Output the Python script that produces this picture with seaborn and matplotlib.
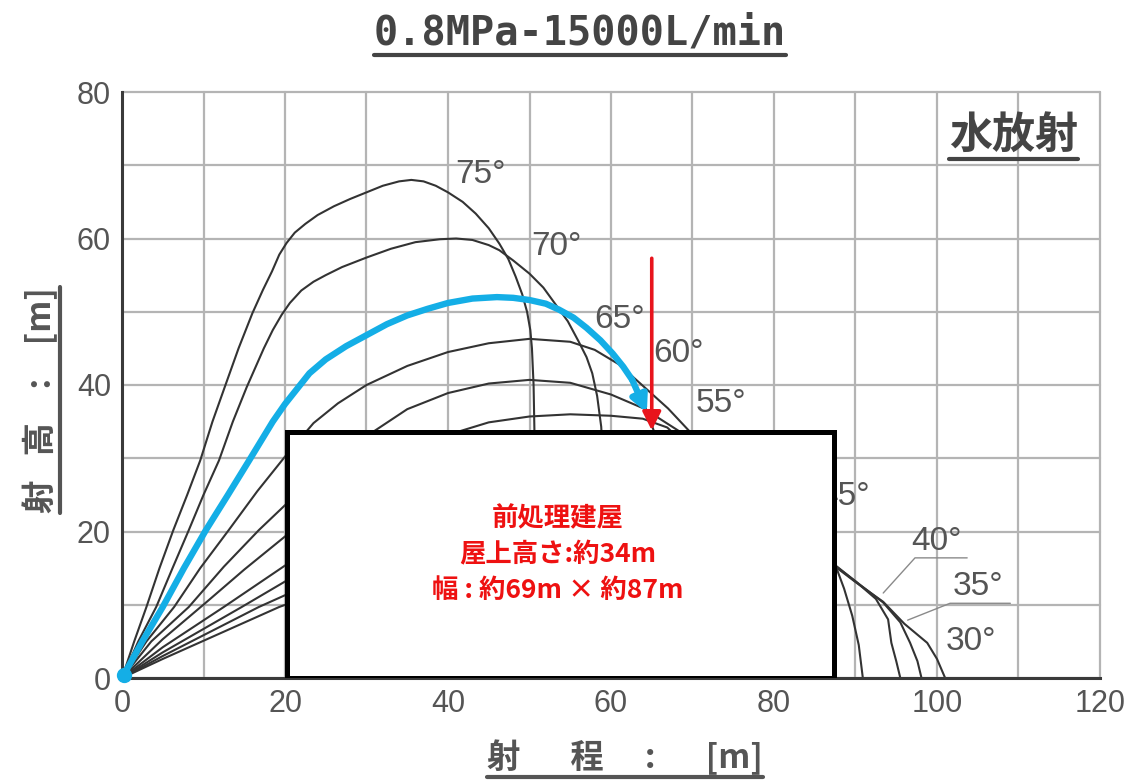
import pandas as pd
import seaborn as sns
import matplotlib.pyplot as plt
import numpy as np
from matplotlib.patches import Rectangle
from matplotlib.lines import Line2D

# --- trajectories (range m, height m) ---
x75 = [0, 1.5, 3.0, 4.6, 6.3, 8.0, 9.6, 11.1, 12.6, 14.3, 16.0, 17.3, 18.4, 19.3, 20.2, 21.2, 22.5, 24.0, 26.0, 28.0, 30.0, 32.0, 34.0, 35.5,
       37.0, 38.5, 40.0, 41.8, 43.4, 45.0, 46.3, 47.4, 48.3, 49.1, 49.7, 50.1, 50.3, 50.5, 50.6, 50.8]
y75 = [0, 5.0, 9.7, 15.0, 20.2, 25.0, 29.7, 35.0, 39.7, 45.0, 49.8, 53.0, 55.5, 57.8, 59.4, 60.8, 62.0, 63.2, 64.4, 65.4, 66.3, 67.2, 67.8, 68.0,
       67.8, 67.2, 66.3, 65.0, 63.4, 61.4, 59.3, 57.2, 54.8, 52.4, 50.0, 47.5, 45.0, 40.0, 34.0, 0]
x70 = [0, 2.0, 4.2, 6.2, 8.2, 10.0, 11.9, 13.6, 15.3, 17.4, 18.5, 19.6, 20.6, 22.0, 23.5, 25.0, 27.0, 30.0, 33.0, 36.0, 39.0, 41.0,
       43.0, 45.0, 46.3, 48.0, 50.0, 51.7, 53.2, 54.7, 56.0, 57.0, 57.7, 58.3, 58.8, 59.5, 59.8]
y70 = [0, 5.0, 9.7, 15.0, 20.2, 25.0, 29.7, 35.0, 39.7, 45.0, 47.5, 49.6, 51.2, 52.9, 54.1, 55.0, 56.1, 57.4, 58.6, 59.5, 59.9, 60.0,
       59.8, 59.1, 58.4, 57.0, 55.2, 53.3, 51.0, 48.7, 46.0, 43.8, 41.6, 38.5, 34.3, 20.0, 0]
x65 = [0, 2.5, 5.0, 7.6, 10.3, 13.0, 15.6, 18.5, 20.0, 21.5, 23.0, 25.0, 27.5, 30.0, 32.5, 35.0, 37.5, 40.0, 43.0, 46.0, 48.0, 50.0,
       52.0, 53.6, 55.4, 57.0, 58.7, 60.2, 61.5, 62.6, 63.5, 64.2, 65.3, 66.0, 66.3]
y65 = [0, 5.0, 9.7, 15.0, 20.2, 25.0, 29.7, 35.0, 37.4, 39.5, 41.6, 43.5, 45.3, 46.8, 48.3, 49.5, 50.4, 51.2, 51.8, 52.0, 51.9, 51.6,
       51.1, 50.3, 49.2, 47.8, 46.1, 44.3, 42.5, 40.7, 38.8, 37.0, 33.6, 20.0, 0]
x60 = [0, 3.0, 6.4, 9.6, 13.1, 16.6, 20.2, 23.5, 26.5, 30.0, 35.0, 40.0, 45.0, 50.0, 55.0, 58.0, 61.0, 64.0, 67.0, 69.7, 72.0, 74.0, 75.5, 76.0]
y60 = [0, 5.0, 9.7, 15.0, 20.2, 25.5, 30.5, 34.8, 37.5, 40.0, 42.6, 44.5, 45.7, 46.3, 45.9, 44.8, 42.8, 39.8, 36.8, 33.6, 28.0, 20.0, 10.0, 0]
x55 = [0, 3.6, 8.2, 12.5, 16.8, 20.2, 25.0, 30.8, 35.0, 40.0, 45.0, 50.0, 55.0, 60.0, 64.0, 68.5, 71.5, 74.0, 76.0, 77.0]
y55 = [0, 5.0, 9.7, 15.2, 20.2, 23.8, 28.6, 33.6, 36.7, 38.9, 40.2, 40.7, 40.3, 38.7, 36.8, 33.6, 28.0, 20.0, 10.0, 0]
x50 = [0, 5.0, 10.3, 15.0, 20.2, 25.0, 30.0, 35.0, 40.0, 45.0, 50.0, 55.0, 60.0, 63.9, 66.9, 69.0, 72.0, 75.0, 77.0, 78.0]
y50 = [0, 5.3, 10.3, 14.8, 19.5, 23.6, 27.4, 30.8, 33.2, 34.9, 35.7, 36.0, 35.8, 35.4, 34.2, 32.0, 27.0, 20.0, 10.0, 0]
x45 = [0, 5.0, 12.5, 20.2, 30.0, 40.0, 50.0, 55.0, 60.0, 66.0, 72.0, 78.0, 82.0, 85.5, 87.4, 88.6, 89.6, 90.4, 90.9]
y45 = [0, 4.2, 9.7, 15.5, 21.5, 26.5, 29.8, 30.6, 30.8, 30.2, 28.6, 26.0, 23.5, 19.8, 15.8, 12.2, 8.5, 4.5, 0]
x40 = [0, 5.0, 14.7, 20.2, 30.0, 40.0, 50.0, 60.0, 70.0, 78.0, 84.0, 87.4, 90.0, 92.5, 94.0, 94.4, 95.0, 95.5]
y40 = [0, 3.5, 9.7, 13.3, 18.8, 23.0, 25.8, 27.2, 26.5, 23.8, 19.6, 15.5, 13.2, 10.8, 8.0, 4.8, 2.3, 0]
x35 = [0, 5.0, 16.8, 20.2, 30.0, 40.0, 50.0, 60.0, 70.0, 80.0, 87.4, 90.0, 93.4, 95.5, 96.7, 97.6, 98.1]
y35 = [0, 3.0, 9.7, 11.4, 16.0, 19.5, 22.0, 23.2, 22.8, 19.8, 15.4, 13.2, 10.3, 7.6, 4.8, 2.3, 0]
x30 = [0, 5.0, 19.3, 30.0, 40.0, 50.0, 60.0, 70.0, 80.0, 87.4, 90.0, 93.4, 96.0, 98.8, 100.0, 101.0]
y30 = [0, 2.6, 9.7, 14.0, 17.0, 19.0, 19.8, 19.4, 17.6, 15.3, 13.1, 10.4, 7.4, 4.8, 2.6, 0]

angles = [75, 70, 65, 60, 55, 50, 45, 40, 35, 30]
xs_all = [x75, x70, x65, x60, x55, x50, x45, x40, x35, x30]
ys_all = [y75, y70, y65, y60, y55, y50, y45, y40, y35, y30]

# angle labels (position of label text)
label_x = [44.0, 53.3, 61.0, 68.3, 73.5, 84.6, 91.8, 100.0, 105.0, 104.2]
label_y = [68.8, 58.9, 49.0, 44.3, 37.5, 34.0, 24.8, 18.6, 12.5, 5.0]

# blue highlighted jet follows the 65 deg curve up to x=62.6, then arrow tip
blue_end = 62.6
blue_tip = (64.4, 36.2)

# building
bldg_x0, bldg_w, bldg_h = 20.3, 67.1, 33.6
bldg_text = "前処理建屋\n屋上高さ:約34m\n幅 : 約69m × 約87m"
red_x, red_top = 65.0, 57.3

xticks = [0, 20, 40, 60, 80, 100, 120]
yticks = [0, 20, 40, 60, 80]

sns.set_style('white')
plt.rcParams['font.family'] = ['Noto Sans CJK JP', 'DejaVu Sans']

fig = plt.figure(figsize=(11.33, 7.81), dpi=100)
W, H = 1133, 781
ax = fig.add_axes([122 / W, 103 / H, (978 * 121 / 120) / W, (586 * 81 / 80) / H])
ax.set_xlim(0, 121)
ax.set_ylim(0, 81)

# grid
for gx in range(0, 121, 10):
    ax.plot([gx, gx], [0, 80], color='#b4b4b4', lw=1.6, zorder=0)
for gy in range(0, 81, 10):
    ax.plot([0, 120], [gy, gy], color='#b4b4b4', lw=1.6, zorder=0)

for s in ['top', 'right']:
    ax.spines[s].set_visible(False)
ax.spines['left'].set_bounds(0, 80)
ax.spines['bottom'].set_bounds(0, 120)
for s in ['left', 'bottom']:
    ax.spines[s].set_color('#3a3a3a')
    ax.spines[s].set_linewidth(2.2)

frames = [pd.DataFrame({'range': xs, 'height': ys, 'angle': a})
          for a, xs, ys in zip(angles, xs_all, ys_all)]
df = pd.concat(frames, ignore_index=True)
sns.lineplot(data=df, x='range', y='height', units='angle', estimator=None,
             sort=False, color='#333333', lw=1.5, ax=ax, zorder=2, legend=False)

for a, lx, ly in zip(angles, label_x, label_y):
    ha = 'right' if a in (50, 45) else 'center'
    va = 'top' if a == 50 else 'center'
    ax.text(lx, ly, f"{a}°", ha=ha, va=va, fontsize=24, color='#555555',
            family='Liberation Sans', zorder=3)

# leader lines for 40 / 35
ax.plot([103.7, 97.3, 93.4], [16.4, 16.4, 11.6], color='#8a8a8a', lw=1.0, zorder=2)
ax.plot([109.0, 101.6, 96.4], [10.2, 10.2, 7.9], color='#8a8a8a', lw=1.0, zorder=2)

# building box
ax.add_patch(Rectangle((bldg_x0, 0), bldg_w, bldg_h, fc='white', ec='black',
                       lw=3.6, zorder=4))
ax.text(bldg_x0 + bldg_w * 0.495, 16.8, bldg_text, ha='center', va='center',
        color='#ee1111', fontsize=19, fontweight='bold', linespacing=1.42, zorder=5)

# blue jet
blue = '#14aee6'
nb = x65.index(blue_end) + 1
sns.lineplot(x=x65[:nb], y=y65[:nb], sort=False, color=blue, lw=4.6,
             ax=ax, zorder=6)
ax.annotate('', xy=blue_tip, xytext=(x65[nb - 1], y65[nb - 1]),
            arrowprops=dict(arrowstyle='-|>', mutation_scale=24, color=blue,
                            lw=4.6, shrinkA=0, shrinkB=0), zorder=6)
ax.plot([0.3], [0.4], 'o', color=blue, ms=10, zorder=7, clip_on=False)

# red arrow
ax.annotate('', xy=(red_x, bldg_h + 0.2), xytext=(red_x, red_top),
            arrowprops=dict(arrowstyle='-|>', mutation_scale=28, color='#e8141c',
                            lw=2.6, shrinkA=0, shrinkB=0), zorder=7)

ax.set_xticks(xticks)
ax.set_yticks(yticks)
ax.tick_params(length=0, labelsize=22, labelcolor='#555555', pad=8)
for t in ax.get_xticklabels() + ax.get_yticklabels():
    t.set_family('Liberation Sans')
ax.set_xlabel('')
ax.set_ylabel('')

title = fig.text(580 / W, 1 - 33 / H, "0.8MPa-15000L/min", ha='center', va='center',
                 fontsize=29, family='DejaVu Sans Mono', fontweight='bold', color='#444444')
mark = ax.text(109.4, 74.1, "水放射", ha='center', va='center', fontsize=31,
               color='#444444', fontweight='bold', zorder=3)
xl = fig.text(625 / W, 1 - 757 / H, "射\u3000\u2002程\u3000 :\u3000\u2002[m]", ha='center',
              va='center', fontsize=24, color='#555555', fontweight='bold')
yl = fig.text(40 / W, 1 - 400 / H, "射\u2002 高\u3000:\u3000[m]", ha='center', va='center',
              fontsize=24, color='#555555', fontweight='bold', rotation=90)

fig.canvas.draw()
inv = fig.transFigure.inverted()


def underline(txt, pad=4, lw=3.0, vertical=False):
    bb = txt.get_window_extent()
    if vertical:
        p = inv.transform([[bb.x1 + pad, bb.y0], [bb.x1 + pad, bb.y1]])
    else:
        p = inv.transform([[bb.x0, bb.y0 - pad], [bb.x1, bb.y0 - pad]])
    fig.add_artist(Line2D(p[:, 0], p[:, 1], color=txt.get_color(), lw=lw))


underline(title, pad=2)
underline(mark, pad=2)
underline(xl, pad=2)
underline(yl, pad=2, vertical=True)

fig.savefig('out.png', dpi=100)
